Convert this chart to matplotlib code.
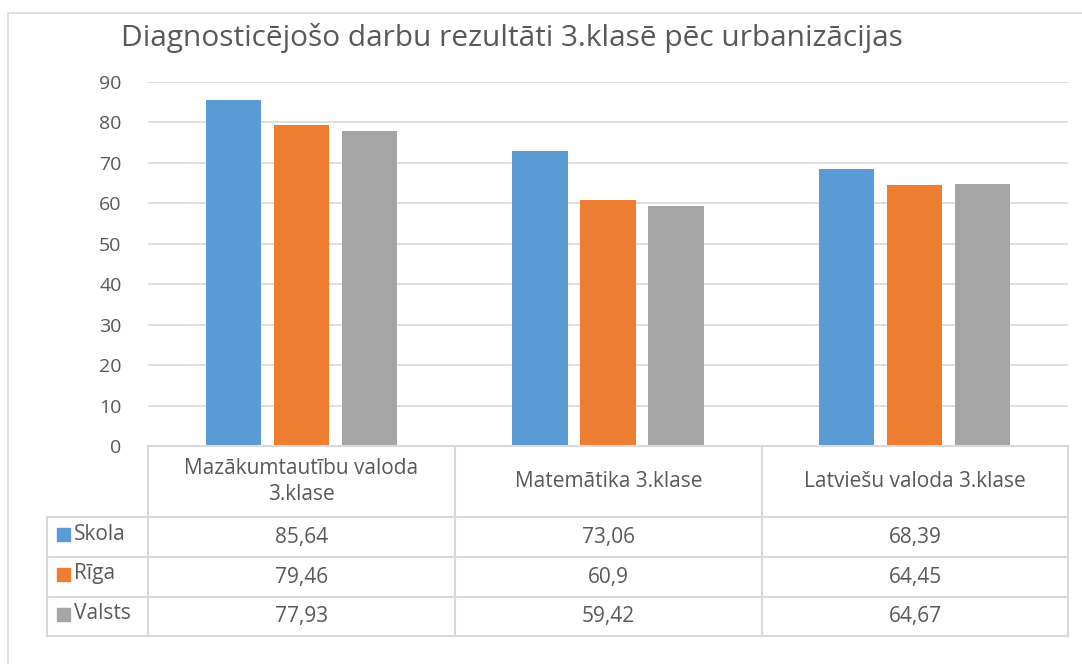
import matplotlib
matplotlib.use("Agg")
import matplotlib.pyplot as plt
import numpy as np

plt.rcParams['font.family'] = ['Open Sans', 'DejaVu Sans']

# data
categories = ["Mazākumtautību valoda\n3.klase", "Matemātika 3.klase", "Latviešu valoda 3.klase"]
series_names = ["Skola", "Rīga", "Valsts"]
skola = [85.64, 73.06, 68.39]
riga = [79.46, 60.9, 64.45]
valsts = [77.93, 59.42, 64.67]
labels_skola = ["85,64", "73,06", "68,39"]
labels_riga = ["79,46", "60,9", "64,45"]
labels_valsts = ["77,93", "59,42", "64,67"]
yticks = [0, 10, 20, 30, 40, 50, 60, 70, 80, 90]

colors = ["#5B9BD5", "#ED7D31", "#A5A5A5"]
txt = "#595959"
line_c = "#D9D9D9"

W, H = 1082, 664
fig = plt.figure(figsize=(W / 100, H / 100), dpi=100)

def px(x0, y0, x1, y1):
    # pixel box -> figure fraction [left, bottom, width, height]
    return [x0 / W, 1 - y1 / H, (x1 - x0) / W, (y1 - y0) / H]

# outer chart border + title
bg = fig.add_axes([0, 0, 1, 1])
bg.set_xlim(0, W)
bg.set_ylim(H, 0)
bg.axis('off')
bg.plot([8, 8, W + 5], [H + 5, 13, 13], color="#D9D9D9", lw=1.2)
bg.text(121, 38, "Diagnosticējošo darbu rezultāti 3.klasē pēc urbanizācijas",
        fontsize=21.5, color=txt, va='center', ha='left')

# bar chart
ax = fig.add_axes(px(148, 82, 1068, 446))
x = np.arange(len(categories))
bw = 0.18
step = 0.222
for i, vals in enumerate([skola, riga, valsts]):
    ax.bar(x + (i - 1) * step, vals, width=bw, color=colors[i], zorder=3)
ax.set_xlim(-0.5, 2.5)
ax.set_ylim(0, 90)
ax.set_yticks(yticks)
ax.set_yticklabels([str(t) for t in yticks], fontsize=14, color=txt)
ax.tick_params(axis='y', length=0, pad=19)
ax.set_xticks([])
ax.grid(axis='y', color=line_c, lw=1.2, zorder=0)
for s in ax.spines.values():
    s.set_visible(False)

# data table
tab = fig.add_axes([0, 0, 1, 1])
tab.set_xlim(0, W)
tab.set_ylim(H, 0)
tab.axis('off')
col_x = [148, 455, 762, 1068]
row_y = [446, 517, 557, 597, 636]
lk = dict(color=line_c, lw=1.5)
for cx in col_x:
    tab.plot([cx, cx], [row_y[0], row_y[-1]], **lk)
tab.plot([47, 47], [row_y[1], row_y[-1]], **lk)
tab.plot([148, 1068], [row_y[0], row_y[0]], **lk)
for ry in row_y[1:]:
    tab.plot([47, 1068], [ry, ry], **lk)

for j, cat in enumerate(categories):
    cxm = (col_x[j] + col_x[j + 1]) / 2
    tab.text(cxm, (row_y[0] + row_y[1]) / 2, cat, ha='center', va='center',
             multialignment='center', fontsize=15, color=txt, linespacing=1.35)

for i, (name, labs) in enumerate(zip(series_names, [labels_skola, labels_riga, labels_valsts])):
    cy = (row_y[i + 1] + row_y[i + 2]) / 2
    tab.add_patch(plt.Rectangle((57, cy - 9), 13, 13, color=colors[i]))
    tab.text(74, cy - 3, name, ha='left', va='center', fontsize=15, color=txt)
    for j, lab in enumerate(labs):
        cxm = (col_x[j] + col_x[j + 1]) / 2
        tab.text(cxm, cy, lab, ha='center', va='center', fontsize=15, color=txt)

fig.savefig("out.png", dpi=100)
